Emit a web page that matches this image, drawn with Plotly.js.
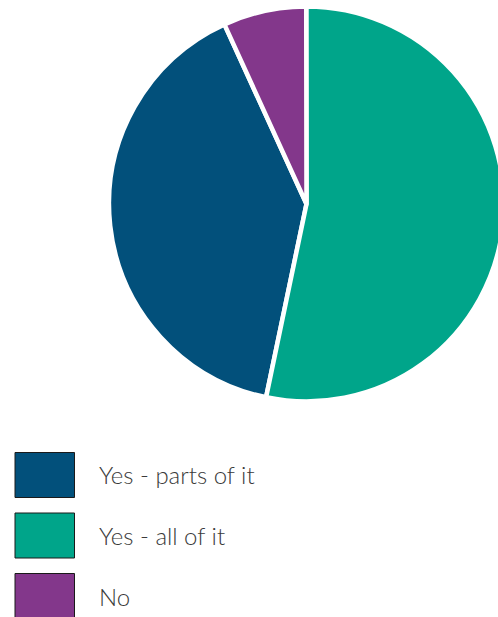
<!DOCTYPE html>
<html>
<head>
<meta charset="utf-8">
<script src="https://cdn.plot.ly/plotly-3.0.1.min.js"></script>
<style>
html,body{margin:0;padding:0;overflow:hidden;background:#fff;}
#chart{width:506px;height:617px;}
</style>
</head>
<body>
<div id="chart"></div>
<script>
const labels = ["Yes - parts of it", "Yes - all of it", "No"];
const values = [39.9, 53.3, 6.8];
const colors = ["#02507b", "#00a58a", "#83378b"];

const W = 506, H = 617;
const px = x => x / W;
const py = y => 1 - y / H;

const trace = {
  type: "pie",
  labels: labels,
  values: values,
  sort: false,
  direction: "counterclockwise",
  rotation: 191.8,
  textinfo: "none",
  hoverinfo: "label+percent",
  showlegend: false,
  marker: { colors: colors, line: { color: "#ffffff", width: 4.5 } },
  domain: { x: [px(109), px(504)], y: [py(401.5), py(6.5)] }
};

const shapes = [], annotations = [];
labels.forEach((lab, i) => {
  const yc = 475 + i * 60.5;
  shapes.push({
    type: "rect", xref: "paper", yref: "paper",
    x0: px(15), x1: px(74.5), y0: py(yc - 22.5), y1: py(yc + 22.5),
    fillcolor: colors[i], line: { color: "#1a1a1a", width: 1 }
  });
  annotations.push({
    xref: "paper", yref: "paper", x: px(97), y: py(yc),
    xanchor: "left", yanchor: "middle", showarrow: false,
    text: lab,
    font: { family: "Lato, 'Open Sans', sans-serif", size: 24, color: "#3a3a3a", weight: 300 }
  });
});

const layout = {
  width: W, height: H,
  margin: { l: 0, r: 0, t: 0, b: 0 },
  paper_bgcolor: "#ffffff",
  plot_bgcolor: "#ffffff",
  showlegend: false,
  shapes: shapes,
  annotations: annotations
};

Plotly.newPlot("chart", [trace], layout, { displayModeBar: false, staticPlot: true });
</script>
</body>
</html>
